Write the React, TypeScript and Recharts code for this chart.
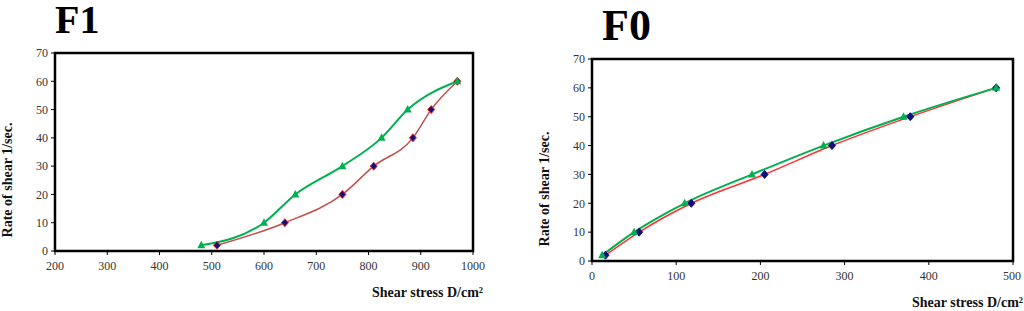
import React from "react";
import { LineChart, Line, XAxis, YAxis, ReferenceArea } from "recharts";

// F1 panel
const f1RedX = [510, 640, 750, 810, 885, 920, 970];
const f1RedY = [2, 10, 20, 30, 40, 50, 60];
const f1GreenX = [480, 600, 660, 750, 825, 875, 970];
const f1GreenY = [2, 10, 20, 30, 40, 50, 60];
const f1XTicks = [200, 300, 400, 500, 600, 700, 800, 900, 1000];

// F0 panel
const f0RedX = [16, 56, 118, 205, 285, 378, 480];
const f0RedY = [2, 10, 20, 30, 40, 50, 60];
const f0GreenX = [12, 50, 110, 190, 275, 370, 480];
const f0GreenY = [2, 10, 20, 30, 40, 50, 60];
const f0XTicks = [0, 100, 200, 300, 400, 500];

const yTicks = [0, 10, 20, 30, 40, 50, 60, 70];

const zip = (xs: number[], ys: number[]) => xs.map((x, i) => ({ x, y: ys[i] }));

const GREEN = "#00b050";
const NAVY = "#10107a";
const font = "'Liberation Serif', 'Times New Roman', serif";

const Triangle = (props: any) => {
  const { cx, cy } = props;
  if (cx == null || cy == null) return null;
  return (
    <polygon
      points={`${cx},${cy - 4.5} ${cx - 4},${cy + 3} ${cx + 4},${cy + 3}`}
      fill={GREEN}
    />
  );
};

const makeDiamond = (stroke: string) => (props: any) => {
  const { cx, cy } = props;
  if (cx == null || cy == null) return null;
  return (
    <polygon
      points={`${cx},${cy - 4} ${cx + 3.5},${cy} ${cx},${cy + 4} ${cx - 3.5},${cy}`}
      fill={NAVY}
      stroke={stroke}
      strokeWidth={1}
    />
  );
};

const XTick = (props: any) => {
  const { x, y, payload } = props;
  return (
    <text
      x={x}
      y={y}
      dy="0.71em"
      textAnchor="middle"
      style={{ fontFamily: font, fontSize: 12, fill: "#333" }}
    >
      {payload.value}
    </text>
  );
};

const YTick = (props: any) => {
  const { x, y, payload } = props;
  return (
    <text
      x={x}
      y={y}
      dy="0.355em"
      textAnchor="end"
      style={{ fontFamily: font, fontSize: 12, fill: "#333" }}
    >
      {payload.value}
    </text>
  );
};

type PanelProps = {
  left: number;
  margin: { top: number; right: number; bottom: number; left: number };
  domain: [number, number];
  xTicks: number[];
  red: { x: number; y: number }[];
  green: { x: number; y: number }[];
  redColor: string;
  diamondStroke: string;
};

const Panel = ({ left, margin, domain, xTicks, red, green, redColor, diamondStroke }: PanelProps) => (
  <div style={{ position: "absolute", left, top: 0 }}>
    <LineChart width={512} height={311} margin={margin}>
      <XAxis
        type="number"
        dataKey="x"
        domain={domain}
        ticks={xTicks}
        allowDataOverflow
        stroke="#000"
        strokeWidth={2}
        tickSize={4}
        tickMargin={6}
        height={30}
        tick={<XTick />}
        tickLine={{ stroke: "#000", strokeWidth: 1 }}
      />
      <YAxis
        type="number"
        dataKey="y"
        domain={[0, 70]}
        ticks={yTicks}
        allowDataOverflow
        stroke="#000"
        strokeWidth={2}
        tickSize={4}
        tickMargin={3}
        width={45}
        tick={<YTick />}
        tickLine={{ stroke: "#000", strokeWidth: 1 }}
      />
      <ReferenceArea
        x1={domain[0]}
        x2={domain[1]}
        y1={0}
        y2={70}
        fill="none"
        fillOpacity={0}
        stroke="#000"
        strokeWidth={2.5}
      />
      <Line
        data={red}
        dataKey="y"
        type="monotone"
        stroke={redColor}
        strokeWidth={1.5}
        dot={makeDiamond(diamondStroke)}
        isAnimationActive={false}
      />
      <Line
        data={green}
        dataKey="y"
        type="monotone"
        stroke={GREEN}
        strokeWidth={2}
        dot={<Triangle />}
        isAnimationActive={false}
      />
    </LineChart>
  </div>
);

const YLabel = ({ cx, cy }: { cx: number; cy: number }) => (
  <div
    style={{
      position: "absolute",
      left: cx,
      top: cy,
      width: 200,
      textAlign: "center",
      transform: "translate(-50%, -50%) rotate(-90deg)",
      fontFamily: font,
      fontWeight: "bold",
      fontSize: 14,
      lineHeight: "16px",
      color: "#111",
      whiteSpace: "nowrap",
    }}
  >
    Rate of shear 1/sec.
  </div>
);

const XLabel = ({ right, cy }: { right: number; cy: number }) => (
  <div
    style={{
      position: "absolute",
      left: right - 200,
      top: cy - 9,
      width: 200,
      textAlign: "right",
      fontFamily: font,
      fontWeight: "bold",
      fontSize: 14,
      lineHeight: "18px",
      color: "#111",
      whiteSpace: "nowrap",
    }}
  >
    Shear stress D/cm²
  </div>
);

export default function App() {
  return (
    <div
      style={{
        position: "absolute",
        left: 0,
        top: 0,
        width: 1024,
        height: 311,
        background: "#fff",
        overflow: "hidden",
      }}
    >
      <Panel
        left={0}
        margin={{ top: 53, right: 39, bottom: 30, left: 10 }}
        domain={[200, 1000]}
        xTicks={f1XTicks}
        red={zip(f1RedX, f1RedY)}
        green={zip(f1GreenX, f1GreenY)}
        redColor="#c0504d"
        diamondStroke="#e03030"
      />
      <Panel
        left={512}
        margin={{ top: 59, right: 11, bottom: 20, left: 35 }}
        domain={[0, 500]}
        xTicks={f0XTicks}
        red={zip(f0RedX, f0RedY)}
        green={zip(f0GreenX, f0GreenY)}
        redColor="#ff3030"
        diamondStroke={NAVY}
      />
      <div
        style={{
          position: "absolute",
          left: 55,
          top: 0,
          fontFamily: font,
          fontWeight: "bold",
          fontSize: 40,
          lineHeight: "40px",
          color: "#000",
        }}
      >
        F1
      </div>
      <div
        style={{
          position: "absolute",
          left: 602,
          top: 4,
          fontFamily: font,
          fontWeight: "bold",
          fontSize: 44,
          lineHeight: "44px",
          color: "#000",
        }}
      >
        F0
      </div>
      <YLabel cx={8} cy={180} />
      <YLabel cx={545} cy={189} />
      <XLabel right={483} cy={293} />
      <XLabel right={1023} cy={303} />
    </div>
  );
}
